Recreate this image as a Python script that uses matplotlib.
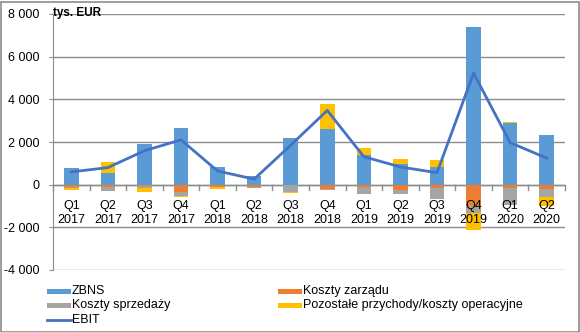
import matplotlib
matplotlib.use("Agg")
import matplotlib.pyplot as plt
import numpy as np
from matplotlib.patches import Rectangle
from matplotlib.lines import Line2D

quarters = ["Q1", "Q2", "Q3", "Q4", "Q1", "Q2", "Q3", "Q4", "Q1", "Q2", "Q3", "Q4", "Q1", "Q2"]
years = ["2017", "2017", "2017", "2017", "2018", "2018", "2018", "2018",
         "2019", "2019", "2019", "2019", "2020", "2020"]
zbns = [790, 550, 1910, 2660, 835, 395, 2200, 2620, 1390, 960, 835, 7410, 2905, 2350]
koszty_zarzadu = [-120, -120, -60, -330, -100, -120, -10, -220, -120, -240, -175, -1000, -160, -190]
koszty_sprzedazy = [-30, -160, -110, -200, -20, -30, -320, -50, -330, -175, -475, -330, -790, -380]
pozostale = [-90, 500, -190, -50, -80, 30, -40, 1180, 315, 225, 315, -800, 50, -410]
ebit = [600, 800, 1590, 2100, 640, 260, 1850, 3480, 1310, 830, 560, 5230, 1970, 1245]

series = [
    ("ZBNS", zbns, "#5B9BD5"),
    ("Koszty zarządu", koszty_zarzadu, "#ED7D31"),
    ("Koszty sprzedaży", koszty_sprzedazy, "#A5A5A5"),
    ("Pozostałe przychody/koszty operacyjne", pozostale, "#FFC000"),
]
ebit_color = "#4472C4"

plt.rcParams['font.family'] = ['Liberation Sans', 'DejaVu Sans']

fig = plt.figure(figsize=(5.8, 3.32), dpi=100)
W, H = 580, 332
ax = fig.add_axes([53 / W, 1 - 270 / H, (565 - 53) / W, (270 - 14) / H])

n = len(quarters)
x = np.arange(n)
pos_bottom = np.zeros(n)
neg_bottom = np.zeros(n)
for name, vals, color in series:
    v = np.array(vals, dtype=float)
    bottoms = np.where(v >= 0, pos_bottom, neg_bottom)
    ax.bar(x, v, 0.4, bottom=bottoms, color=color, zorder=3, linewidth=0)
    pos_bottom = pos_bottom + np.where(v >= 0, v, 0)
    neg_bottom = neg_bottom + np.where(v < 0, v, 0)

ax.plot(x, ebit, color=ebit_color, linewidth=2, zorder=4)

ax.set_xlim(-0.5, n - 0.5)
ax.set_ylim(-4000, 8000)
yt = np.arange(-4000, 8001, 2000)
ax.set_yticks(yt)
ax.set_yticklabels([f"{v:,}".replace(",", " ") for v in yt], fontsize=9)
ax.yaxis.grid(True, color="#8C8C8C", linewidth=1, zorder=0)
ax.tick_params(axis="y", length=3, color="#8C8C8C", pad=7)
ax.set_xticks([])
for s in ["top", "right", "bottom"]:
    ax.spines[s].set_visible(False)
ax.spines["left"].set_color("#8C8C8C")

# category axis at zero
ax.axhline(0, color="#8C8C8C", linewidth=1, zorder=2)
for b in np.arange(-0.5, n, 1.0):
    ax.plot([b, b], [0, -240], color="#8C8C8C", linewidth=1, zorder=2, clip_on=False)
for i in range(n):
    ax.text(i, -980, quarters[i], ha="center", va="center", fontsize=9, zorder=6)
    ax.text(i, -1650, years[i], ha="center", va="center", fontsize=9, zorder=6)

fig.text(53 / W, 1 - 13 / H, "tys. EUR", fontsize=8.5, fontweight="bold", ha="left", va="center")

# legend (manual, Excel-like layout)
def fig_xy(px, py):
    return px / W, 1 - py / H

entries = [
    (47, 291, "rect", series[0][2], series[0][0]),
    (278, 291, "rect", series[1][2], series[1][0]),
    (47, 305, "rect", series[2][2], series[2][0]),
    (278, 305, "rect", series[3][2], series[3][0]),
    (47, 320, "line", ebit_color, "EBIT"),
]
for px, py, kind, color, label in entries:
    if kind == "rect":
        x0, y0 = fig_xy(px, py + 2.5)
        fig.patches.append(Rectangle((x0, y0), 24 / W, 5 / H, transform=fig.transFigure,
                                     color=color, linewidth=0))
    else:
        xa, ya = fig_xy(px, py)
        xb, _ = fig_xy(px + 24, py)
        fig.lines.append(Line2D([xa, xb], [ya, ya], transform=fig.transFigure,
                                color=color, linewidth=2))
    tx, ty = fig_xy(px + 25, py)
    fig.text(tx, ty, label, fontsize=9, ha="left", va="center")

# outer frame
fig.patches.append(Rectangle((0.5 / W, 0.5 / H), 1 - 2 / W, 1 - 2 / H,
                             transform=fig.transFigure, fill=False,
                             edgecolor="#8C8C8C", linewidth=1.2))

fig.savefig("out.png", dpi=100)
